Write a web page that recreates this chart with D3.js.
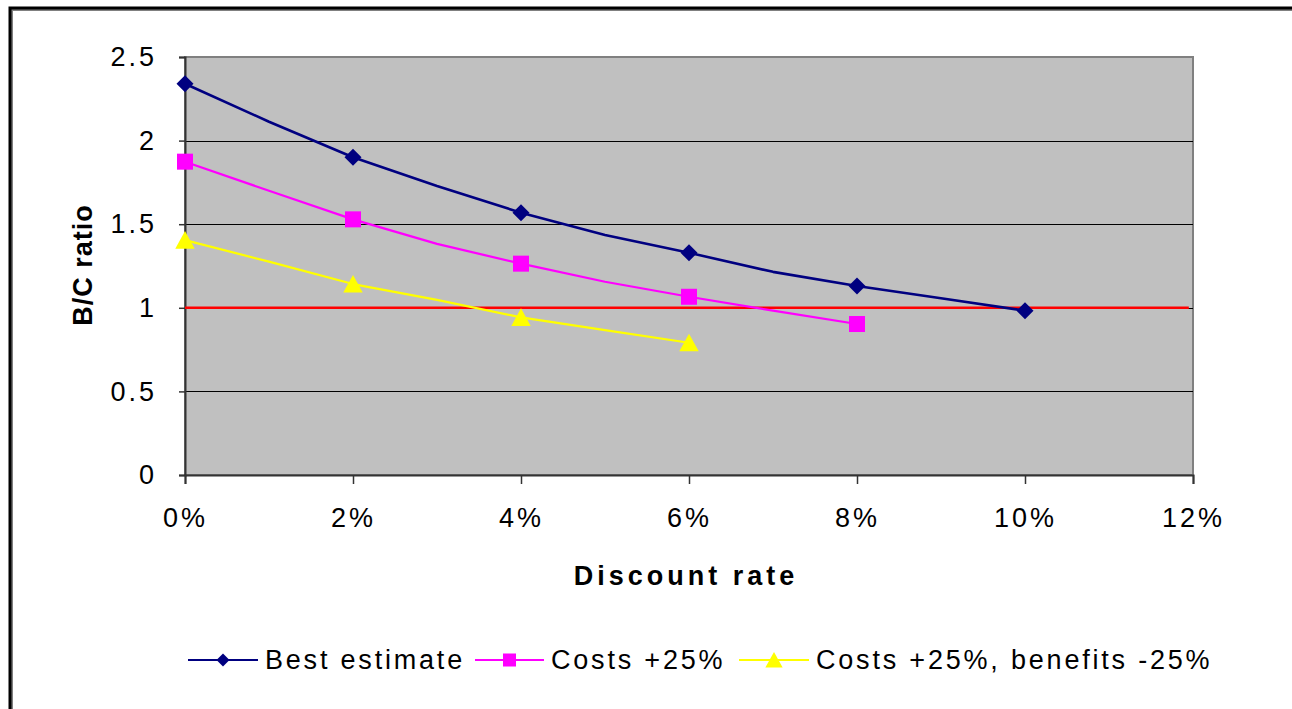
<!DOCTYPE html>
<html>
<head>
<meta charset="utf-8">
<script src="https://cdn.jsdelivr.net/npm/d3@7"></script>
<style>
  html, body { margin: 0; padding: 0; background: #fff; }
  svg { display: block; font-family: "Liberation Sans", Arial, sans-serif; }
</style>
</head>
<body>
<svg id="chart" width="1292" height="709"></svg>
<script>
// Discount rates (as fractions) and B/C ratios for each scenario
const rates = [0, 0.01, 0.02, 0.03, 0.04, 0.05, 0.06, 0.07, 0.08, 0.09, 0.10];
const bestEstimate = [2.34, 2.113, 1.90, 1.728, 1.569, 1.435, 1.329, 1.215, 1.130, 1.057, 0.983];
const costsUp = [1.874, 1.700, 1.529, 1.382, 1.264, 1.156, 1.066, 0.983, 0.903];
const costsUpBenefitsDown = [1.405, 1.276, 1.142, 1.047, 0.943, 0.867, 0.791];
const breakEven = 1;

const xTicks = [0, 0.02, 0.04, 0.06, 0.08, 0.10, 0.12];
const yTicks = [0, 0.5, 1, 1.5, 2, 2.5];
const markerRates = [0, 0.02, 0.04, 0.06, 0.08, 0.10];

const seriesNames = ["Best estimate", "Costs +25%", "Costs +25%, benefits -25%"];
const seriesColors = ["#000080", "#FF00FF", "#FFFF00"];
const seriesShapes = ["diamond", "square", "triangle"];
const seriesValues = [bestEstimate, costsUp, costsUpBenefitsDown];

const svg = d3.select("#chart");
const plot = { left: 185, right: 1193, top: 57, bottom: 475 };

const x = d3.scaleLinear().domain([0, 0.12]).range([plot.left, plot.right]);
const y = d3.scaleLinear().domain([0, 2.5]).range([plot.bottom, plot.top]);

// outer chart frame
svg.append("rect")
  .attr("x", 12).attr("y", 10).attr("width", 1320).attr("height", 740)
  .attr("fill", "none").attr("stroke", "#808080").attr("stroke-width", 2);
svg.append("rect")
  .attr("x", 10).attr("y", 8).attr("width", 1320).attr("height", 740)
  .attr("fill", "none").attr("stroke", "#000").attr("stroke-width", 3);

// plot area
svg.append("rect")
  .attr("x", plot.left).attr("y", plot.top)
  .attr("width", plot.right - plot.left).attr("height", plot.bottom - plot.top)
  .attr("fill", "#C0C0C0").attr("stroke", "#808080").attr("stroke-width", 2);

// horizontal gridlines
svg.append("g").selectAll("line")
  .data(yTicks.filter(v => v > 0 && v < 2.5))
  .join("line")
  .attr("x1", plot.left).attr("x2", plot.right)
  .attr("y1", d => Math.round(y(d)) + 0.5).attr("y2", d => Math.round(y(d)) + 0.5)
  .attr("stroke", "#000").attr("stroke-width", 1);

// axes
const yAxis = svg.append("g")
  .attr("transform", `translate(${plot.left},0)`)
  .call(d3.axisLeft(y).tickValues(yTicks).tickSize(6).tickPadding(22)
    .tickFormat(d => String(d)));
const xAxis = svg.append("g")
  .attr("transform", `translate(0,${plot.bottom})`)
  .call(d3.axisBottom(x).tickValues(xTicks).tickSize(9).tickPadding(24)
    .tickFormat(d => Math.round(d * 100) + "%"));

[yAxis, xAxis].forEach(g => {
  g.select(".domain").attr("stroke", "#333").attr("stroke-width", 2);
  g.selectAll(".tick line").attr("stroke", "#333").attr("stroke-width", 1.5);
  g.selectAll("text")
    .attr("font-family", "Liberation Sans, Arial, sans-serif")
    .attr("font-size", 27).attr("fill", "#000")
    .style("letter-spacing", "3px");
});

// break-even line
svg.append("line")
  .attr("x1", x(0)).attr("x2", x(0.1195))
  .attr("y1", y(breakEven)).attr("y2", y(breakEven))
  .attr("stroke", "#FF0000").attr("stroke-width", 2.5);

// marker shapes
function marker(sel, shape, color, size) {
  if (shape === "diamond") {
    sel.append("path").attr("d", `M0,${-size}L${size},0L0,${size}L${-size},0Z`).attr("fill", color);
  } else if (shape === "square") {
    sel.append("rect").attr("x", -size).attr("y", -size)
      .attr("width", 2 * size).attr("height", 2 * size).attr("fill", color);
  } else {
    sel.append("path").attr("d", `M0,${-size}L${size * 1.08},${size * 0.95}L${-size * 1.08},${size * 0.95}Z`).attr("fill", color);
  }
}

const line = d3.line().x(d => x(d[0])).y(d => y(d[1]));

seriesValues.forEach((vals, i) => {
  const pts = vals.map((v, j) => [rates[j], v]);
  svg.append("path")
    .datum(pts)
    .attr("d", line)
    .attr("fill", "none")
    .attr("stroke", seriesColors[i])
    .attr("stroke-width", i === 0 ? 2.6 : 2.2)
    .attr("stroke-linejoin", "round");
  const mk = pts.filter(p => markerRates.some(r => Math.abs(r - p[0]) < 1e-9));
  svg.append("g").selectAll("g")
    .data(mk)
    .join("g")
    .attr("transform", d => `translate(${x(d[0])},${y(d[1])})`)
    .each(function () {
      const size = seriesShapes[i] === "diamond" ? 8.5 : (seriesShapes[i] === "square" ? 8 : 9);
      marker(d3.select(this), seriesShapes[i], seriesColors[i], size);
    });
});

// axis titles
svg.append("text")
  .attr("transform", "translate(92,265) rotate(-90)")
  .attr("text-anchor", "middle")
  .attr("font-size", 27).attr("font-weight", "bold")
  .style("letter-spacing", "1px")
  .text("B/C ratio");
svg.append("text")
  .attr("x", 686).attr("y", 585)
  .attr("text-anchor", "middle")
  .attr("font-size", 27).attr("font-weight", "bold")
  .style("letter-spacing", "4px")
  .text("Discount rate");

// legend
const legendItems = [
  { x1: 188, x2: 258, text: 265 },
  { x1: 475, x2: 544, text: 551 },
  { x1: 739, x2: 809, text: 816 }
];
const ly = 660;
legendItems.forEach((it, i) => {
  const g = svg.append("g");
  g.append("line")
    .attr("x1", it.x1).attr("x2", it.x2).attr("y1", ly).attr("y2", ly)
    .attr("stroke", seriesColors[i]).attr("stroke-width", 2.2);
  const m = g.append("g").attr("transform", `translate(${(it.x1 + it.x2) / 2},${ly})`);
  marker(m, seriesShapes[i], seriesColors[i], seriesShapes[i] === "triangle" ? 8 : 6.5);
  g.append("text")
    .attr("x", it.text).attr("y", ly + 9)
    .attr("font-size", 27)
    .style("letter-spacing", "2.8px")
    .text(seriesNames[i]);
});
</script>
</body>
</html>
